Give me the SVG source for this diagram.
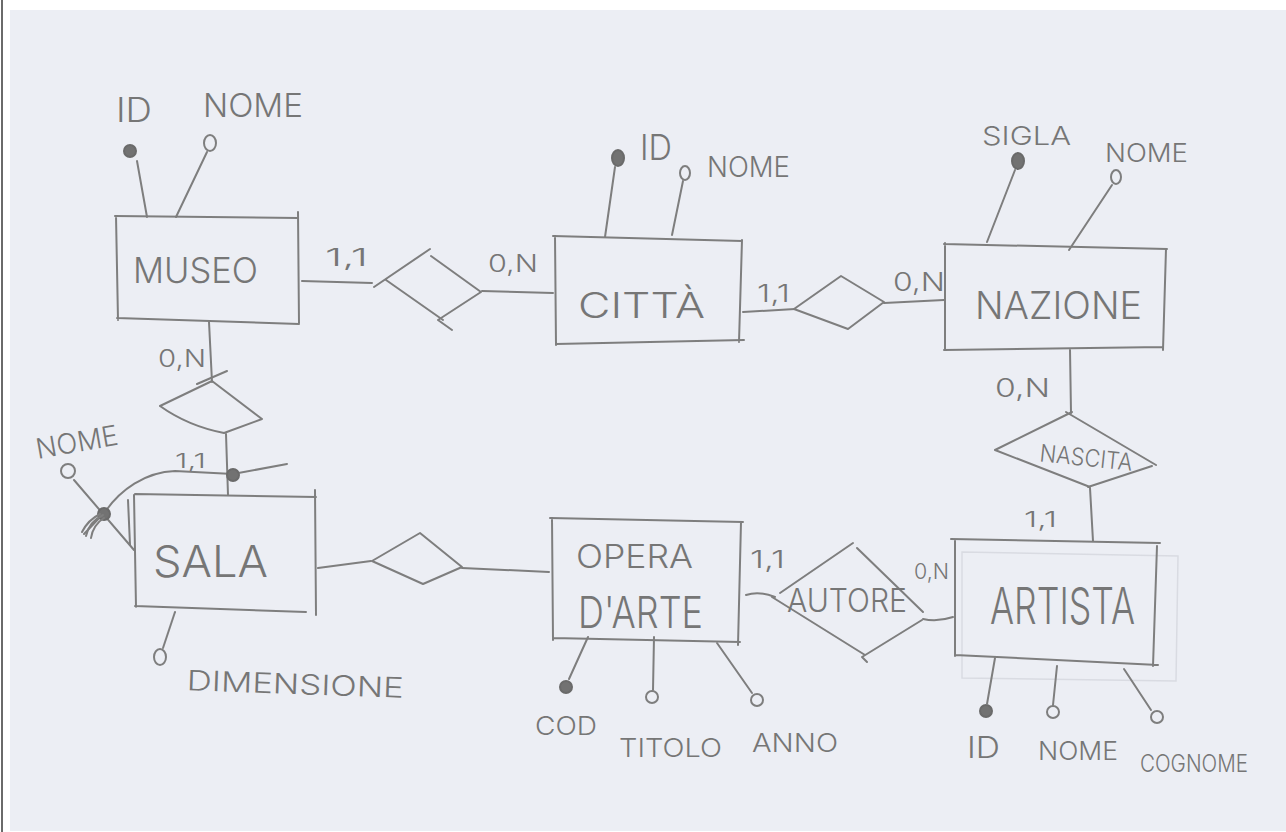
<svg xmlns="http://www.w3.org/2000/svg" width="1286" height="832" viewBox="0 0 1286 832">
<defs>
<style>
.p{fill:none;stroke:#7e7e7e;stroke-width:2;stroke-linecap:round;stroke-linejoin:round}
.g{fill:none;stroke:#d9dbe2;stroke-width:1.5}
.k{fill:#727272;stroke:#6a6a6a;stroke-width:2}
.o{fill:none;stroke:#7e7e7e;stroke-width:2}
.t{fill:#767676;font-family:"Inter","Liberation Sans",sans-serif;font-weight:300}
</style>
</defs>
<rect width="1286" height="832" fill="#ffffff"/>
<rect x="10" y="10" width="1276" height="821" fill="#eceef4"/>
<rect x="1" y="0" width="2" height="832" fill="#6a6a6a"/>

<g id="connectors">
<path class="p" d="M302,281 L372,283"/>
<path class="p" d="M482,291 L553,293"/>
<path class="p" d="M743,312 L795,309"/>
<path class="p" d="M884,303 L944,300"/>
<path class="p" d="M1070,350 L1071,413"/>
<path class="p" d="M1090,488 L1093,541"/>
<path class="p" d="M953,617 C941,621 932,621 923,619"/>
<path class="p" d="M746,595 C755,592 765,593 775,597"/>
<path class="p" d="M318,568 L371,561"/>
<path class="p" d="M462,568 L549,572"/>
<path class="p" d="M209,322 L212,382"/>
<path class="p" d="M226,434 L228,495"/>
</g>

<g id="cardinalities">
<text class="t" x="325" y="266" font-size="24" textLength="43" lengthAdjust="spacingAndGlyphs">1,1</text>
<text class="t" x="488" y="272" font-size="24" textLength="50" lengthAdjust="spacingAndGlyphs">0,N</text>
<text class="t" x="757" y="302" font-size="24" textLength="33" lengthAdjust="spacingAndGlyphs">1,1</text>
<text class="t" x="893" y="291" font-size="26" textLength="52" lengthAdjust="spacingAndGlyphs">0,N</text>
<text class="t" x="158" y="367" font-size="24" textLength="48" lengthAdjust="spacingAndGlyphs">0,N</text>
<text class="t" x="175" y="468" font-size="20" textLength="31" lengthAdjust="spacingAndGlyphs">1,1</text>
<text class="t" x="995" y="397" font-size="26" textLength="55" lengthAdjust="spacingAndGlyphs">0,N</text>
<text class="t" x="1024" y="527" font-size="22" textLength="33" lengthAdjust="spacingAndGlyphs">1,1</text>
<text class="t" x="750" y="568" font-size="24" textLength="35" lengthAdjust="spacingAndGlyphs">1,1</text>
<text class="t" x="914" y="579" font-size="22" textLength="35" lengthAdjust="spacingAndGlyphs">0,N</text>
</g>

<g id="museo">
<path class="p" d="M115,216 L298,218 M298,212 L299,323 M116,216 L118,320 M117,318 L299,324"/>
<text class="t" x="133" y="283" font-size="36" textLength="125" lengthAdjust="spacingAndGlyphs">MUSEO</text>
<circle class="k" cx="130" cy="151" r="6"/>
<path class="p" d="M137,161 L147,217"/>
<ellipse class="o" cx="210" cy="143" rx="6" ry="8"/>
<path class="p" d="M207,152 L176,217"/>
<text class="t" x="116" y="122" font-size="34" textLength="36" lengthAdjust="spacingAndGlyphs">ID</text>
<text class="t" x="203" y="117" font-size="32" textLength="100" lengthAdjust="spacingAndGlyphs">NOME</text>
</g>

<g id="rel-museo-citta">
<path class="p" d="M374,287 L430,249 M431,256 L481,292 L438,320 L452,330 M386,280 L443,320"/>
</g>

<g id="citta">
<path class="p" d="M553,236 L742,241 M555,236 L556,345 M742,240 L739,342 M556,344 L744,340"/>
<text class="t" x="578" y="318" font-size="36" textLength="127" lengthAdjust="spacingAndGlyphs">CITTÀ</text>
<ellipse class="k" cx="618" cy="158" rx="6" ry="8"/>
<path class="p" d="M615,167 L605,237"/>
<text class="t" x="640" y="160" font-size="36" textLength="32" lengthAdjust="spacingAndGlyphs">ID</text>
<ellipse class="o" cx="685" cy="173" rx="5" ry="7"/>
<path class="p" d="M683,181 L672,235"/>
<text class="t" x="707" y="177" font-size="28" textLength="83" lengthAdjust="spacingAndGlyphs">NOME</text>
</g>

<g id="rel-citta-nazione">
<path class="p" d="M794,309 L841,276 L884,302 L848,329 Z"/>
</g>

<g id="nazione">
<path class="p" d="M944,244 L1167,249 M945,243 L945,350 M1166,249 L1163,350 M944,350 L1163,347"/>
<text class="t" x="975" y="319" font-size="38" textLength="167" lengthAdjust="spacingAndGlyphs">NAZIONE</text>
<ellipse class="k" cx="1018" cy="161" rx="6" ry="8"/>
<path class="p" d="M1015,170 L987,242"/>
<text class="t" x="982" y="145" font-size="26" textLength="89" lengthAdjust="spacingAndGlyphs">SIGLA</text>
<ellipse class="o" cx="1116" cy="177" rx="5" ry="7"/>
<path class="p" d="M1112,185 L1069,250"/>
<text class="t" x="1105" y="162" font-size="26" textLength="83" lengthAdjust="spacingAndGlyphs">NOME</text>
</g>

<g id="nascita">
<path class="p" d="M995,450 L1072,412 M1066,412 L1156,465 M1152,466 L1088,487 M995,450 L1090,487"/>
<text class="t" x="1040" y="466" font-size="24" textLength="93" lengthAdjust="spacingAndGlyphs" transform="rotate(6 1086 455)">NASCITA</text>
</g>

<g id="artista">
<path class="g" d="M962,552 L1178,556 L1176,681 L962,678 Z"/>
<path class="p" d="M951,539 L1160,543 M955,540 L955,656 M1157,546 L1153,666 M955,655 L1158,665"/>
<text class="t" x="990" y="624" font-size="50" textLength="145" lengthAdjust="spacingAndGlyphs">ARTISTA</text>
<circle class="k" cx="986" cy="711" r="6"/>
<path class="p" d="M995,658 L987,704"/>
<text class="t" x="967" y="758" font-size="30" textLength="33" lengthAdjust="spacingAndGlyphs">ID</text>
<circle class="o" cx="1053" cy="712" r="6"/>
<path class="p" d="M1057,666 L1053,705"/>
<text class="t" x="1038" y="760" font-size="26" textLength="80" lengthAdjust="spacingAndGlyphs">NOME</text>
<circle class="o" cx="1157" cy="717" r="6"/>
<path class="p" d="M1124,669 L1151,710"/>
<text class="t" x="1140" y="772" font-size="24" textLength="108" lengthAdjust="spacingAndGlyphs">COGNOME</text>
</g>

<g id="autore">
<path class="p" d="M780,593 L853,543 M857,548 L923,612 M922,620 L862,657 L867,662 M772,597 L865,655"/>
<text class="t" x="787" y="612" font-size="32" textLength="120" lengthAdjust="spacingAndGlyphs">AUTORE</text>
</g>

<g id="opera">
<path class="p" d="M550,518 L743,522 M552,518 L553,640 M741,522 L738,645 M553,638 L740,642"/>
<text class="t" x="576" y="568" font-size="32" textLength="117" lengthAdjust="spacingAndGlyphs">OPERA</text>
<text class="t" x="578" y="628" font-size="44" textLength="125" lengthAdjust="spacingAndGlyphs">D'ARTE</text>
<circle class="k" cx="566" cy="687" r="6"/>
<path class="p" d="M588,637 L569,679"/>
<text class="t" x="535" y="735" font-size="26" textLength="62" lengthAdjust="spacingAndGlyphs">COD</text>
<circle class="o" cx="652" cy="697" r="6"/>
<path class="p" d="M654,637 L653,690"/>
<text class="t" x="619" y="757" font-size="26" textLength="103" lengthAdjust="spacingAndGlyphs">TITOLO</text>
<circle class="o" cx="757" cy="700" r="6"/>
<path class="p" d="M717,643 L752,693"/>
<text class="t" x="752" y="752" font-size="26" textLength="86" lengthAdjust="spacingAndGlyphs">ANNO</text>
</g>

<g id="rel-sala-opera">
<path class="p" d="M372,561 L420,533 L462,567 L423,584 Z"/>
</g>

<g id="rel-museo-sala">
<path class="p" d="M160,406 L212,381 L262,419 L224,433 M160,406 Q188,426 224,433 M197,384 L227,371"/>
</g>

<g id="sala">
<path class="p" d="M135,494 L316,497 M134,495 L136,607 M315,490 L316,615 M135,606 L306,612 M128,500 L130,545"/>
<text class="t" x="153" y="577" font-size="44" textLength="115" lengthAdjust="spacingAndGlyphs">SALA</text>
<circle class="o" cx="68" cy="471" r="7"/>
<path class="p" d="M74,480 L134,550"/>
<text class="t" x="35" y="452" font-size="28" textLength="83" lengthAdjust="spacingAndGlyphs" transform="rotate(-10 76 440)">NOME</text>
<path class="p" d="M287,464 L233,474 L175,471 C145,472 120,490 105,512 L84,534"/>
<circle class="k" cx="233" cy="475" r="6"/>
<circle class="k" cx="104" cy="514" r="6"/>
<path class="p" d="M86,536 C88,526 95,519 103,515 M82,532 C86,524 92,518 100,514 M91,538 C92,530 97,522 104,518"/>
<ellipse class="o" cx="160" cy="657" rx="6" ry="8"/>
<path class="p" d="M175,612 L163,648"/>
<text class="t" x="187" y="694" font-size="28" textLength="217" lengthAdjust="spacingAndGlyphs" transform="rotate(2 295 680)">DIMENSIONE</text>
</g>
</svg>
